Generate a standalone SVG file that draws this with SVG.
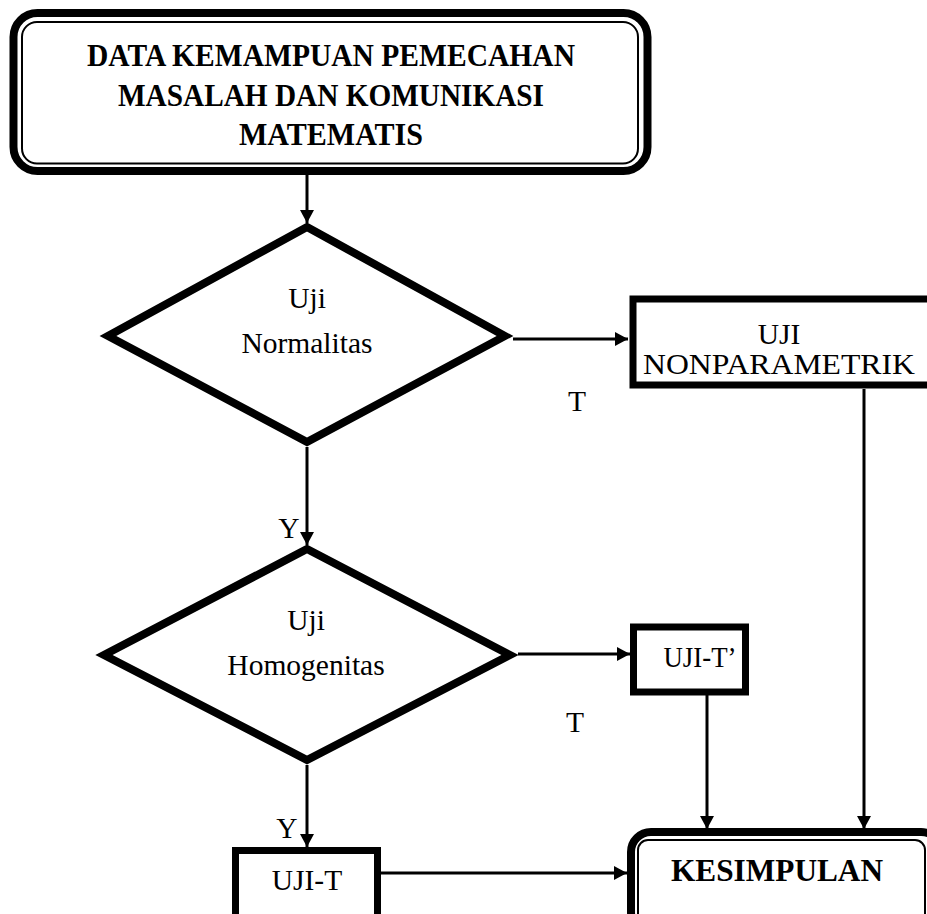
<svg xmlns="http://www.w3.org/2000/svg" width="927" height="914" viewBox="0 0 927 914">
<defs>
<marker id="arr" markerWidth="14" markerHeight="14" refX="13" refY="7" orient="auto" markerUnits="userSpaceOnUse">
<path d="M0,0 L13,7 L0,14 Z" fill="#000"/>
</marker>
<style>
.conn{stroke:#000;stroke-width:3;fill:none;marker-end:url(#arr)}
.thick{fill:#fff;stroke:#000;stroke-width:8}
.thin{fill:none;stroke:#000;stroke-width:2}
.box{fill:#fff;stroke:#000;stroke-width:7}
.dia{fill:#fff;stroke:#000;stroke-width:8;stroke-linejoin:miter;stroke-miterlimit:10}
.t{font-family:"Liberation Serif","Times New Roman",serif;font-size:29.5px;fill:#000;text-anchor:middle}
.b{font-family:"Liberation Serif","Times New Roman",serif;font-size:32px;font-weight:bold;fill:#000;text-anchor:middle}
</style>
</defs>
<rect width="927" height="914" fill="#fff"/>
<g id="connectors">
<path class="conn" d="M307 175 V223"/>
<path class="conn" d="M513 339 H628"/>
<path class="conn" d="M307 447 V545"/>
<path class="conn" d="M518 654 H630"/>
<path class="conn" d="M307 765 V847"/>
<path class="conn" d="M707 695 V829"/>
<path class="conn" d="M864 389 V829"/>
<path class="conn" d="M381 873 H627"/>
</g>
<g id="start">
<rect class="thick" x="13.5" y="13" width="634" height="158" rx="24" stroke-width="9"/>
<rect class="thin" x="22" y="22" width="616" height="141.5" rx="15"/>
<text class="b" x="331" y="66" textLength="488" lengthAdjust="spacingAndGlyphs">DATA KEMAMPUAN PEMECAHAN</text>
<text class="b" x="331" y="106" textLength="426" lengthAdjust="spacingAndGlyphs">MASALAH DAN KOMUNIKASI</text>
<text class="b" x="331" y="145" textLength="184" lengthAdjust="spacingAndGlyphs">MATEMATIS</text>
</g>
<g id="normalitas">
<polygon class="dia" points="307,227 505,336 307,442 108,336"/>
<text class="t" x="307" y="308">Uji</text>
<text class="t" x="307" y="353">Normalitas</text>
</g>
<g id="nonparametrik">
<rect class="box" x="633" y="299" width="310" height="86"/>
<text class="t" x="779" y="344">UJI</text>
<text class="t" x="779" y="374" textLength="272" lengthAdjust="spacingAndGlyphs">NONPARAMETRIK</text>
</g>
<g id="label-t1"><text class="t" x="577" y="411">T</text></g>
<g id="label-y1"><text class="t" x="289" y="538">Y</text></g>
<g id="homogenitas">
<polygon class="dia" points="307,549 510,655 307,760 104,655"/>
<text class="t" x="306" y="630">Uji</text>
<text class="t" x="306" y="675">Homogenitas</text>
</g>
<g id="ujit2">
<rect class="box" x="633.5" y="627" width="112" height="65"/>
<text class="t" x="700" y="667" textLength="73" lengthAdjust="spacingAndGlyphs">UJI-T’</text>
</g>
<g id="label-t2"><text class="t" x="575" y="732">T</text></g>
<g id="label-y2"><text class="t" x="287" y="838">Y</text></g>
<g id="ujit">
<rect class="box" x="235.5" y="850.5" width="142" height="80"/>
<text class="t" x="307" y="890">UJI-T</text>
</g>
<g id="kesimpulan">
<rect class="thick" x="631" y="832" width="310" height="100" rx="20"/>
<rect class="thin" x="638" y="840" width="287" height="90" rx="10"/>
<text class="b" x="777" y="881" textLength="212" lengthAdjust="spacingAndGlyphs">KESIMPULAN</text>
</g>
</svg>
